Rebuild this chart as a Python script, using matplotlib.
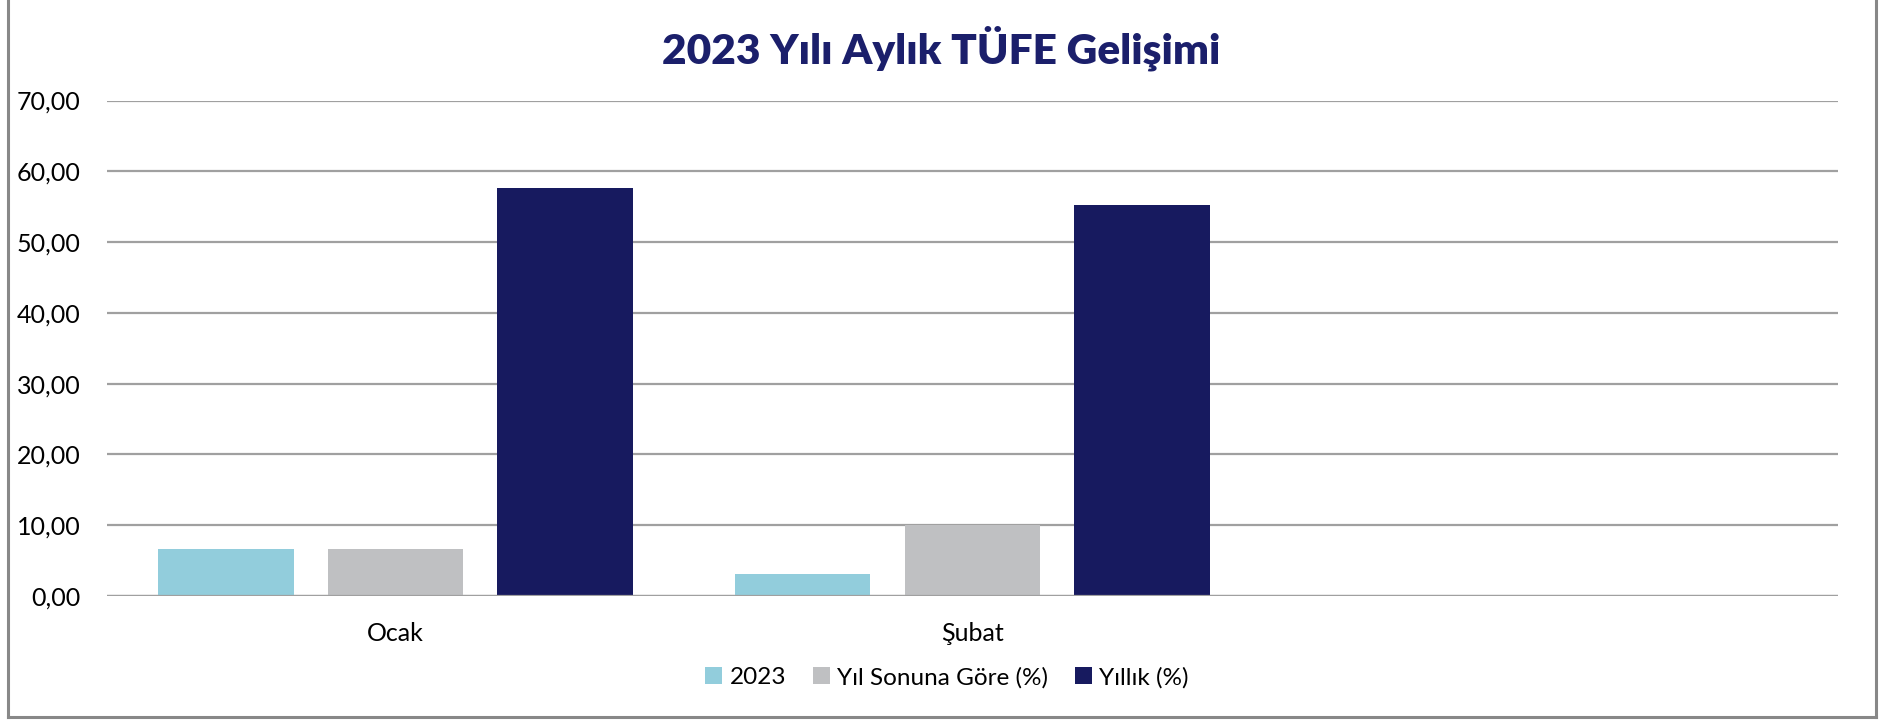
import matplotlib
matplotlib.use("Agg")
import matplotlib.pyplot as plt
from matplotlib.lines import Line2D
from matplotlib.patches import Patch
import numpy as np

plt.rcParams['font.family'] = ['Lato', 'DejaVu Sans']

categories = ["Ocak", "Şubat"]
series_names = ["2023", "Yıl Sonuna Göre (%)", "Yıllık (%)"]
v_2023 = [6.65, 3.15]
v_ytd = [6.65, 10.01]
v_annual = [57.68, 55.18]
yticks = [0, 10, 20, 30, 40, 50, 60, 70]
title = "2023 Yılı Aylık TÜFE Gelişimi"

colors = ["#92CDDC", "#BFC0C2", "#171A5F"]

fig = plt.figure(figsize=(18.79, 7.21), dpi=100)
ax = fig.add_axes([0.0569, 0.1734, 0.9211, 0.6872])

x = np.arange(len(categories))
w = 0.235
off = 0.294
for i, (vals, c, name) in enumerate(zip([v_2023, v_ytd, v_annual], colors, series_names)):
    ax.bar(x + (i - 1) * off, vals, width=w, color=c, label=name, zorder=3)

ax.set_xlim(-0.5, 2.5)
ax.set_ylim(0, 70)
ax.set_yticks(yticks)
ax.set_yticklabels([f"{t:.2f}".replace(".", ",") for t in yticks])
ax.set_xticks(x)
ax.set_xticklabels(categories)
ax.tick_params(axis='both', length=0, labelsize=18, colors='#000000')
ax.tick_params(axis='y', pad=19)
ax.tick_params(axis='x', pad=19)
ax.grid(axis='y', color='#A0A0A0', linewidth=1.6, zorder=1)
for s in ax.spines.values():
    s.set_visible(False)
ax.axhline(0, color='#A0A0A0', linewidth=1.6, zorder=4)

fig.text(0.501, 0.933, title, ha='center', va='center', fontsize=30.5,
         fontweight='heavy', color='#1B1F6B')

handles = [Patch(facecolor=c, edgecolor='none') for c in colors]
fig.legend(handles, series_names, loc='center', bbox_to_anchor=(0.504, 0.06),
           ncol=3, frameon=False, fontsize=17.5, handlelength=0.7, handleheight=0.7,
           handletextpad=0.3, columnspacing=1.1)

# outer frame
for xs, ys in [([0.0045, 0.0045], [0.0055, 1.0]), ([0.9985, 0.9985], [0.0055, 1.0]),
               ([0.0045, 0.9985], [0.0055, 0.0055])]:
    fig.add_artist(Line2D(xs, ys, transform=fig.transFigure, color='#888888', linewidth=2.2))

fig.savefig("out.png", dpi=100)
